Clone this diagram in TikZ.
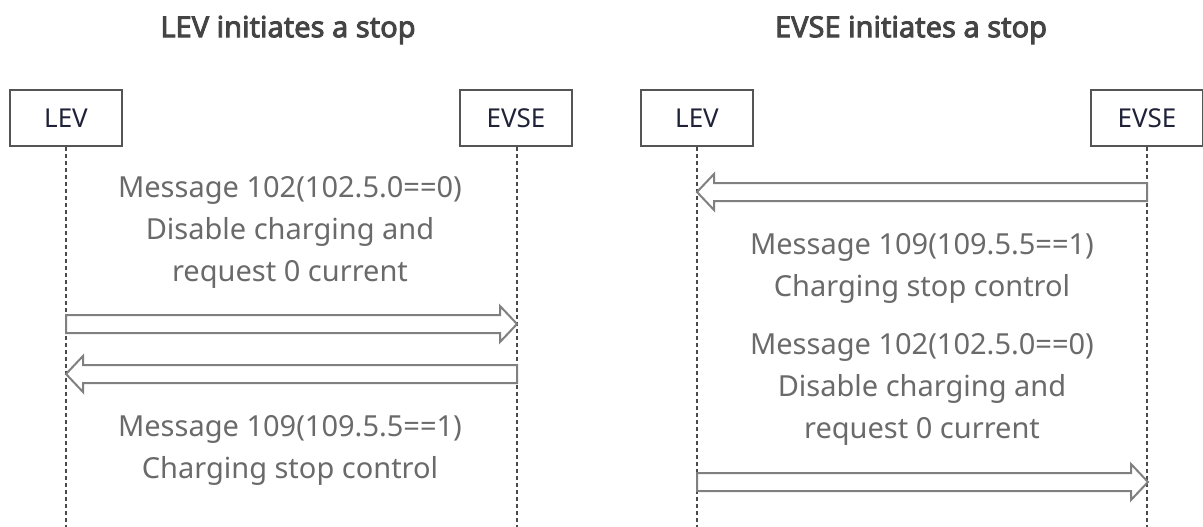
\documentclass[tikz,border=0pt]{standalone}
\usepackage{fontspec}
\setmainfont{Noto Sans}
\newfontfamily\titlefont[FakeBold=3]{Noto Sans}
\usetikzlibrary{calc}
\definecolor{ttl}{HTML}{444444}
\definecolor{msg}{HTML}{6A6A6A}
\definecolor{lbl}{HTML}{1F2238}
\definecolor{edge}{HTML}{555555}
\definecolor{lifec}{HTML}{4A4A4A}
\definecolor{arr}{HTML}{808080}
\tikzset{
  title/.style={font=\titlefont\fontsize{29}{32}\selectfont, text=ttl, inner sep=0pt},
  actor/.style={draw=edge, line width=1.6pt, minimum width=112, minimum height=56, inner sep=0pt, font=\fontsize{26}{28}\selectfont, text=lbl, fill=white},
  life/.style={draw=lifec, line width=2pt, dash pattern=on 4.5pt off 2.5pt},
  msgtext/.style={font=\fontsize{29}{42}\selectfont, text=msg, align=center, inner sep=0pt},
  blockarrow/.style={draw=arr, line width=2pt, fill=white, line join=miter}
}
\newcommand{\rarrow}[2]{% start, tip (same y)
  \draw[blockarrow] ($(#1)+(0,-9)$) -- ($(#2)+(-17,-9)$) -- ($(#2)+(-17,-18)$) -- (#2) -- ($(#2)+(-17,18)$) -- ($(#2)+(-17,9)$) -- ($(#1)+(0,9)$) -- cycle;}
\newcommand{\larrow}[2]{% start, tip
  \draw[blockarrow] ($(#1)+(0,-9)$) -- ($(#2)+(17,-9)$) -- ($(#2)+(17,-18)$) -- (#2) -- ($(#2)+(17,18)$) -- ($(#2)+(17,9)$) -- ($(#1)+(0,9)$) -- cycle;}
\begin{document}
\begin{tikzpicture}[x=1pt,y=-1pt]
\useasboundingbox (0,0) rectangle (1203,527);
% titles
\node[title] (t1) at (288,30) {LEV initiates a stop};
\node[title] (t2) at (911,30) {EVSE initiates a stop};
% actors
\node[actor] (lev1) at (66,118) {LEV};
\node[actor] (evse1) at (516,118) {EVSE};
\node[actor] (lev2) at (697,118) {LEV};
\node[actor] (evse2) at (1147,118) {EVSE};
% lifeline ends
\coordinate (lev1b) at (66,527);
\coordinate (evse1b) at (517,527);
\coordinate (lev2b) at (697,527);
\coordinate (evse2b) at (1147,527);
\draw[life] (lev1.south) -- (lev1b);
\draw[life] ([xshift=1pt]evse1.south) -- (evse1b);
\draw[life] (lev2.south) -- (lev2b);
\draw[life] (evse2.south) -- (evse2b);
% left panel
\node[msgtext] (m1) at (290,232) {Message 102(102.5.0==0)\\Disable charging and\\request 0 current};
\coordinate (a1s) at (66,324);
\coordinate (a1e) at (517,324);
\rarrow{a1s}{a1e}
\coordinate (a2s) at (517,374);
\coordinate (a2e) at (66,374);
\larrow{a2s}{a2e}
\node[msgtext] (m2) at (290,450) {Message 109(109.5.5==1)\\Charging stop control};
% right panel
\coordinate (b1s) at (1147,192);
\coordinate (b1e) at (697,192);
\larrow{b1s}{b1e}
\node[msgtext] (m3) at (922,268) {Message 109(109.5.5==1)\\Charging stop control};
\node[msgtext] (m4) at (922,389) {Message 102(102.5.0==0)\\Disable charging and\\request 0 current};
\coordinate (b2s) at (697,482);
\coordinate (b2e) at (1148,482);
\rarrow{b2s}{b2e}
\end{tikzpicture}
\end{document}
